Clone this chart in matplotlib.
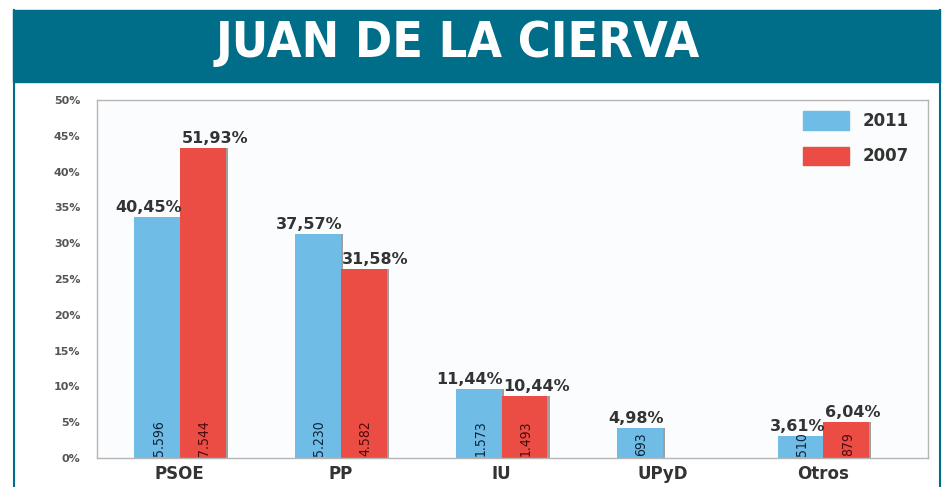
import numpy as np
import matplotlib.pyplot as plt
import matplotlib.patheffects as pe
from matplotlib.patches import Rectangle
from matplotlib.lines import Line2D

partidos = ["PSOE", "PP", "IU", "UPyD", "Otros"]
# bar heights as drawn on the axis (%)
alto_2011 = [33.7, 31.3, 9.6, 4.2, 3.1]
alto_2007 = [43.3, 26.4, 8.7, None, 5.0]
# printed labels
pct_2011 = ["40,45%", "37,57%", "11,44%", "4,98%", "3,61%"]
pct_2007 = ["51,93%", "31,58%", "10,44%", None, "6,04%"]
votos_2011 = ["5.596", "5.230", "1.573", "693", "510"]
votos_2007 = ["7.544", "4.582", "1.493", None, "879"]
yticks = [0, 5, 10, 15, 20, 25, 30, 35, 40, 45, 50]

azul = '#6fbde6'
rojo = '#eb4c44'
teal = '#006e89'

W, H = 947, 487
fig = plt.figure(figsize=(W / 100, H / 100), dpi=100)
fig.patch.set_facecolor('white')

# banner + frame
fig.patches.append(Rectangle((13 / W, 1 - 82 / H), (940 - 13) / W, 72 / H,
                             transform=fig.transFigure, color=teal, zorder=0))
fig.lines.append(Line2D([13.5 / W, 13.5 / W], [0, 1 - 10 / H], transform=fig.transFigure, color=teal, lw=1.5))
fig.lines.append(Line2D([940 / W, 940 / W], [0, 1 - 10 / H], transform=fig.transFigure, color=teal, lw=1.5))
fig.text(458 / W, 1 - 43 / H, "JUAN DE LA CIERVA", color='white', fontsize=36, fontweight='bold',
         fontstretch='condensed', ha='center', va='center', family='DejaVu Sans')

ax = fig.add_axes([97 / W, 1 - 458 / H, (928 - 97) / W, (458 - 100) / H])
ax.set_facecolor('#fbfcfd')
x = np.arange(len(partidos))
bw = 0.285
sombra = [pe.SimplePatchShadow(offset=(1.5, 0), shadow_rgbFace='#888888', alpha=0.8), pe.Normal()]

for i in range(len(partidos)):
    h1 = alto_2011[i]
    b = ax.bar(x[i] - bw / 2, h1, bw, color=azul, zorder=2)
    b[0].set_path_effects(sombra)
    ax.text(x[i] + 0.01, h1 + 0.3, pct_2011[i], ha='right', va='bottom', fontsize=11.5,
            fontweight='bold', color='#333333')
    ax.text(x[i] - bw / 2 + 0.01, 0.3, votos_2011[i], rotation=90, ha='center', va='bottom',
            fontsize=10, color='#0f2238', fontstretch='condensed')
    h2 = alto_2007[i]
    if h2 is not None:
        b = ax.bar(x[i] + bw / 2, h2, bw, color=rojo, zorder=2)
        b[0].set_path_effects(sombra)
        ax.text(x[i] + 0.01, h2 + 0.3, pct_2007[i], ha='left', va='bottom', fontsize=11.5,
                fontweight='bold', color='#333333')
        ax.text(x[i] + bw / 2 + 0.01, 0.3, votos_2007[i], rotation=90, ha='center', va='bottom',
                fontsize=10, color='#4a0c0c', fontstretch='condensed')

ax.set_xlim(-0.515, 4.65)
ax.set_ylim(0, 50)
ax.set_yticks(yticks)
ax.set_yticklabels([f"{v}%" for v in yticks], fontsize=8, fontweight='bold', color='#555555')
ax.set_xticks(x)
ax.set_xticklabels(partidos, fontsize=12, fontweight='bold', color='#333333')
ax.tick_params(length=0)
ax.tick_params(axis='y', pad=12)
ax.tick_params(axis='x', pad=5)
for s in ax.spines.values():
    s.set_color('#b5b5b5')
    s.set_linewidth(1)

# legend
leg = ax.legend(handles=[Rectangle((0, 0), 1, 1, color=azul), Rectangle((0, 0), 1, 1, color=rojo)],
                labels=["2011", "2007"], loc='upper right', frameon=False,
                prop={'weight': 'bold', 'size': 12}, handlelength=2.8, handleheight=1.3,
                labelspacing=1.0, bbox_to_anchor=(0.995, 1.01))
for t in leg.get_texts():
    t.set_color('#333333')

fig.savefig('out.png', dpi=100)
